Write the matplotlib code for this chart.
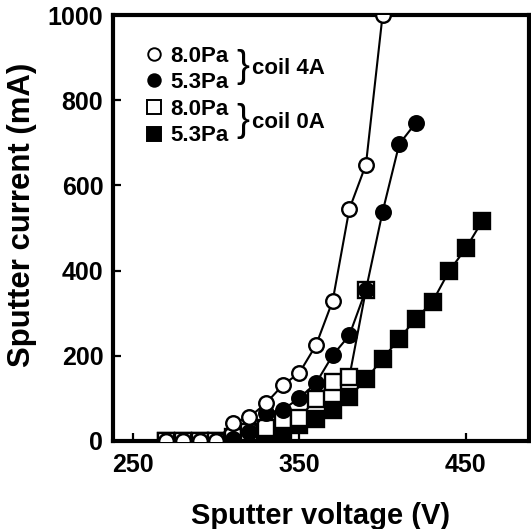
import matplotlib
matplotlib.use('Agg')
import matplotlib.pyplot as plt
from matplotlib.lines import Line2D

plt.rcParams['font.family'] = ['Liberation Sans', 'DejaVu Sans']
plt.rcParams['font.weight'] = 'bold'

# 8.0 Pa, coil 4A (open circles)
v_oc = [270, 280, 290, 300, 310, 320, 330, 340, 350, 360, 370, 380, 390, 400]
i_oc = [0, 0, 0, 0, 42, 56, 89, 131, 160, 225, 329, 544, 649, 1000]
# 5.3 Pa, coil 4A (filled circles)
v_fc = [270, 280, 290, 300, 310, 320, 330, 340, 350, 360, 370, 380, 390, 400, 410, 420]
i_fc = [0, 0, 0, 0, 5, 20, 66, 73, 101, 136, 201, 248, 355, 538, 697, 747]
# 8.0 Pa, coil 0A (open squares)
v_os = [270, 280, 290, 300, 310, 320, 330, 340, 350, 360, 370, 380, 390]
i_os = [0, 0, 0, 0, 10, 21, 30, 49, 54, 99, 139, 150, 355]
# 5.3 Pa, coil 0A (filled squares)
v_fs = [270, 280, 290, 300, 310, 320, 330, 340, 350, 360, 370, 380, 390, 400, 410, 420, 430, 440, 450, 460]
i_fs = [0, 0, 0, 0, 0, 2, 9, 21, 37, 51, 73, 103, 145, 193, 240, 287, 327, 399, 452, 517]

xticks = [250, 350, 450]
yticks = [0, 200, 400, 600, 800, 1000]

fig = plt.figure(figsize=(5.31, 5.29), dpi=100)
ax = fig.add_axes([0.2128, 0.1664, 0.7835, 0.8052])

lw = 1.5
mew = 1.7
ax.plot(v_fs, i_fs, '-s', color='black', lw=lw, ms=11.5, mfc='black', mec='black', mew=mew, zorder=2)
ax.plot(v_os, i_os, '-s', color='black', lw=lw, ms=11.5, mfc='white', mec='black', mew=mew, zorder=3)
ax.plot(v_fc, i_fc, '-o', color='black', lw=lw, ms=10.5, mfc='black', mec='black', mew=mew, zorder=4)
ax.plot(v_oc, i_oc, '-o', color='black', lw=lw, ms=10.5, mfc='white', mec='black', mew=mew, zorder=5)

ax.set_xlim(238, 488)
ax.set_ylim(0, 1000)
ax.set_xticks(xticks)
ax.set_yticks(yticks)
ax.tick_params(direction='in', length=6, width=1.6, labelsize=18, pad=7)
ax.tick_params(axis='x', pad=9)
for s in ax.spines.values():
    s.set_linewidth(3)

ax.set_xlabel('Sputter voltage (V)', fontsize=21, fontweight='bold', labelpad=18)
ax.set_ylabel('Sputter current (mA)', fontsize=22.4, fontweight='bold')
ax.yaxis.set_label_coords(-0.183, 0.53)

handles = [
    Line2D([], [], ls='none', marker='o', ms=9, mfc='white', mec='black', mew=1.4),
    Line2D([], [], ls='none', marker='o', ms=9, mfc='black', mec='black', mew=1.4),
    Line2D([], [], ls='none', marker='s', ms=10, mfc='white', mec='black', mew=1.4),
    Line2D([], [], ls='none', marker='s', ms=10, mfc='black', mec='black', mew=1.4),
]
labels = ['8.0Pa', '5.3Pa', '8.0Pa', '5.3Pa']
leg = ax.legend(handles, labels, loc='upper left', bbox_to_anchor=(0.077, 0.928),
                frameon=False, fontsize=16, handlelength=0.8, handletextpad=0.35,
                labelspacing=0.25, borderpad=0, borderaxespad=0)
for t in leg.get_texts():
    t.set_fontweight('bold')

ax.text(0.296, 0.878, '}', transform=ax.transAxes, fontsize=28, fontweight='normal',
        ha='left', va='center')
ax.text(0.333, 0.874, 'coil 4A', transform=ax.transAxes, fontsize=16, fontweight='bold',
        ha='left', va='center')
ax.text(0.296, 0.752, '}', transform=ax.transAxes, fontsize=28, fontweight='normal',
        ha='left', va='center')
ax.text(0.333, 0.748, 'coil 0A', transform=ax.transAxes, fontsize=16, fontweight='bold',
        ha='left', va='center')

fig.savefig('out.png', dpi=100)
